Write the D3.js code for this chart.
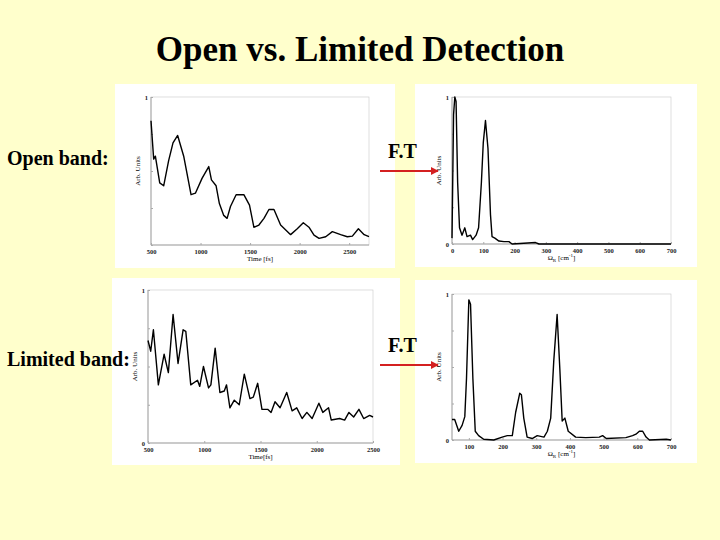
<!DOCTYPE html>
<html><head><meta charset="utf-8">
<script src="https://cdn.jsdelivr.net/npm/d3@7"></script>
<style>body{margin:0;background:#ffffcc}svg{display:block}</style>
</head><body><svg id="slide" width="720" height="540"></svg>
<script>
// values
const openTime = [500,527,544,588,628,678,722,769,830,904,948,1015,1083,1110,1157,1190,1234,1268,1302,1359,1437,1494,1538,1589,1640,1690,1741,1808,1909,1976,2037,2094,2145,2196,2263,2330,2414,2481,2532,2593,2651,2700]
const openSignal = [0.84,0.58,0.60,0.42,0.40,0.57,0.69,0.74,0.60,0.34,0.35,0.45,0.53,0.44,0.40,0.28,0.20,0.18,0.26,0.34,0.34,0.27,0.12,0.135,0.18,0.24,0.24,0.135,0.07,0.11,0.15,0.12,0.067,0.045,0.056,0.09,0.07,0.056,0.06,0.11,0.07,0.056]
const limTime = [500,524,548,592,643,681,723,767,812,836,880,940,960,993,1038,1059,1097,1139,1178,1198,1228,1267,1311,1356,1406,1436,1475,1513,1564,1594,1629,1674,1733,1781,1822,1870,1912,1959,2019,2054,2105,2129,2203,2248,2286,2328,2375,2417,2470,2500]
const limSignal = [0.67,0.60,0.74,0.38,0.58,0.46,0.84,0.52,0.74,0.73,0.38,0.41,0.37,0.50,0.36,0.38,0.62,0.33,0.34,0.38,0.23,0.28,0.25,0.45,0.29,0.30,0.39,0.22,0.22,0.20,0.27,0.23,0.33,0.21,0.23,0.16,0.20,0.16,0.26,0.20,0.23,0.15,0.16,0.15,0.20,0.17,0.22,0.16,0.18,0.17]
const openFreq = [0,5,9,13,18,24,32,41,48,59,66,77,85,94,100,107,115,123,128,137,150,166,182,192,267,278,700]
const openSpec = [0.04,0.88,1.0,0.97,0.42,0.11,0.06,0.11,0.05,0.06,0.03,0.06,0.11,0.42,0.69,0.84,0.65,0.20,0.05,0.04,0.02,0.016,0.016,0,0.01,0,0]
const limFreq = [50,58,70,80,88,93,100,105,112,119,129,144,174,199,214,229,239,251,256,263,273,288,303,323,333,343,352,362,370,377,385,395,417,447,487,497,508,566,586,596,606,616,626,636,686,700]
const limSpec = [0.14,0.14,0.06,0.10,0.16,0.42,0.96,0.93,0.42,0.06,0.03,0.005,0,0.02,0.03,0.03,0.19,0.32,0.31,0.15,0.02,0.01,0.03,0.02,0.06,0.15,0.54,0.86,0.49,0.13,0.15,0.06,0.02,0.016,0.02,0.03,0.01,0.016,0.03,0.04,0.06,0.06,0.02,0,0.005,0]
const timeTicks = [500,1000,1500,2000,2500]
const freqTicks = [0,100,200,300,400,500,600,700]
const serif = "Liberation Serif, Times New Roman, serif"

const svg = d3.select("#slide")
svg.append("rect").attr("width",720).attr("height",540).attr("fill","#ffffcc")

svg.append("text").attr("x",360).attr("y",61).attr("text-anchor","middle")
  .attr("font-family",serif).attr("font-weight","bold").attr("font-size",35).text("Open vs. Limited Detection")

const defs = svg.append("defs")
defs.append("marker").attr("id","head").attr("viewBox","0 0 10 10").attr("refX",9).attr("refY",5)
  .attr("markerWidth",4).attr("markerHeight",4).attr("orient","auto")
  .append("path").attr("d","M0,0L10,5L0,10z").attr("fill","#d42020")

const arrow = (y) => {
  svg.append("text").attr("x",388).attr("y",y - 13).attr("font-family",serif).attr("font-weight","bold").attr("font-size",20).text("F.T")
  svg.append("line").attr("x1",380).attr("x2",438).attr("y1",y).attr("y2",y)
    .attr("stroke","#d42020").attr("stroke-width",2).attr("marker-end","url(#head)")
}

const panel = (box, plot, xs, ys, xDomain, ticks, xLabel, showZero) => {
  svg.append("rect").attr("x",box[0]).attr("y",box[1]).attr("width",box[2]).attr("height",box[3]).attr("fill","#fff")
  const x = d3.scaleLinear().domain(xDomain).range([plot[0], plot[2]])
  const y = d3.scaleLinear().domain([0,1]).range([plot[3], plot[1]])
  const g = svg.append("g")
  g.append("rect").attr("x",plot[0]).attr("y",plot[1]).attr("width",plot[2]-plot[0]).attr("height",plot[3]-plot[1])
    .attr("fill","none").attr("stroke","#c8c8c8").attr("stroke-width",0.6)
  g.append("line").attr("x1",plot[0]).attr("x2",plot[0]).attr("y1",plot[1]).attr("y2",plot[3]).attr("stroke","#888").attr("stroke-width",0.7)
  g.append("line").attr("x1",plot[0]).attr("x2",plot[2]).attr("y1",plot[3]).attr("y2",plot[3]).attr("stroke","#888").attr("stroke-width",0.7)

  const xAxis = g.append("g").attr("transform",`translate(0,${plot[3]})`)
    .call(d3.axisBottom(x).tickValues(ticks).tickSize(-2).tickPadding(4).tickFormat(d3.format("d")))
  const yAxis = g.append("g").attr("transform",`translate(${plot[0]},0)`)
    .call(d3.axisLeft(y).tickValues([0,0.25,0.5,0.75,1]).tickSize(-2).tickPadding(3)
      .tickFormat(d => d === 1 ? "1" : (d === 0 && showZero ? "0" : "")))
  for (const a of [xAxis, yAxis]) {
    a.select(".domain").remove()
    a.selectAll("line").attr("stroke","#aaa")
    a.selectAll("text").attr("font-family",serif).attr("font-weight","bold").attr("font-size",6.5).attr("fill","#222")
  }

  g.append("text").attr("transform",`translate(${plot[0]-11},${(plot[1]+plot[3])/2}) rotate(-90)`)
    .attr("text-anchor","middle").attr("font-family",serif).attr("font-size",7).text("Arb. Units")
  const lab = g.append("text").attr("x",(plot[0]+plot[2])/2).attr("y",plot[3]+16).attr("text-anchor","middle")
    .attr("font-family",serif).attr("font-size",7)
  if (xLabel === "omega") {
    lab.append("tspan").text("Ω")
    lab.append("tspan").attr("dy",2).attr("font-size",5).text("R")
    lab.append("tspan").attr("dy",-2).text(" [cm")
    lab.append("tspan").attr("dy",-3).attr("font-size",5).text("-1")
    lab.append("tspan").attr("dy",3).text("]")
  } else lab.text(xLabel)

  const data = xs.map((v, i) => [v, ys[i]])
  g.append("path").datum(data).attr("fill","none").attr("stroke","#000").attr("stroke-width",1.4)
    .attr("stroke-linejoin","round")
    .attr("d", d3.line().x(d => x(d[0])).y(d => y(d[1])))
}

panel([115,84,280,184],[151,97,369,245],openTime,openSignal,[500,2700],timeTicks,"Time [fs]",false)
panel([112,278,288,187],[148,290,373,443],limTime,limSignal,[500,2500],timeTicks,"Time[fs]",true)
panel([415,84,282,183],[452,97,671,244],openFreq,openSpec,[0,700],freqTicks,"omega",true)
panel([415,280,282,183],[452,294,671,440],limFreq,limSpec,[50,700],freqTicks.slice(1),"omega",true)
arrow(171)
arrow(365)
svg.append("text").attr("x",7).attr("y",165).attr("font-family",serif).attr("font-weight","bold").attr("font-size",20).text("Open band:")
svg.append("text").attr("x",7).attr("y",366).attr("font-family",serif).attr("font-weight","bold").attr("font-size",20).text("Limited band:")
</script></body></html>
